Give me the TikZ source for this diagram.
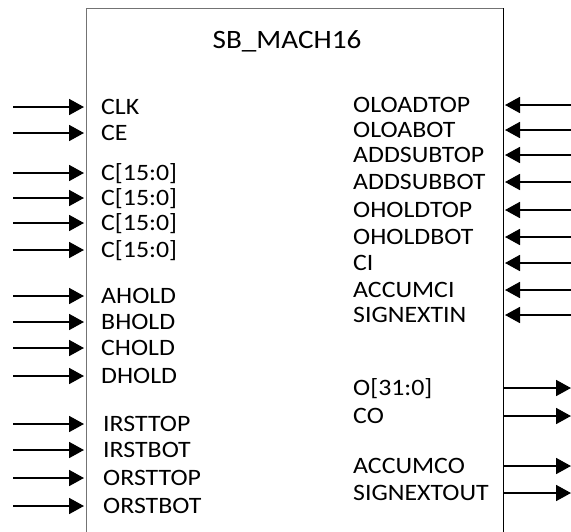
\documentclass[tikz,border=0pt]{standalone}
\usepackage{fontspec}
\setmainfont{Carlito}[FakeStretch=1.1]
\usetikzlibrary{arrows.meta}
\begin{document}
\begin{tikzpicture}[x=1pt,y=-1pt,
  lbl/.style={anchor=base west,inner sep=0pt,font=\fontsize{23.5}{23.5}\selectfont},
  ttl/.style={anchor=center,inner sep=0pt,font=\fontsize{26.5}{26.5}\selectfont},
  sig/.style={line width=1.8pt,-{Triangle[length=15pt,width=16pt]}},
  edgeg/.style={draw=black!55,line width=1pt},
  edgek/.style={draw=black,line width=1pt}]
\useasboundingbox (0,0) rectangle (571,531);
% box
\coordinate (tl) at (86,8);
\coordinate (tr) at (503,8);
\coordinate (bl) at (86,532);
\coordinate (br) at (503,532);
\draw[edgeg] (bl) -- (tl) -- (tr);
\draw[edgek] (tr) -- (br);
\node[ttl] (title) at (287,41) {SB\_MACH16};
% left inputs
\foreach \y/\n/\t/\x in {107/clk/CLK/101,133/ce/CE/101,173/c1/{C[15:0]}/101,198/c2/{C[15:0]}/101,223/c3/{C[15:0]}/101,250/c4/{C[15:0]}/101,296/ah/AHOLD/101,322/bh/BHOLD/101,348/ch/CHOLD/101,376/dh/DHOLD/101,424/it/IRSTTOP/103,450/ib/IRSTBOT/103,478/ot/ORSTTOP/103,506/ob/ORSTBOT/103}{
  \node[lbl] (\n) at (\x,\y+7.5) {\t};
  \coordinate (\n-s) at (13,\y);
  \coordinate (\n-e) at (84,\y);
  \draw[sig] (\n-s) -- (\n-e);
}
% right inputs
\foreach \y/\n/\t in {105/olt/OLOADTOP,130/olb/OLOABOT,155/ast/ADDSUBTOP,182/asb/ADDSUBBOT,210/oht/OHOLDTOP,237/ohb/OHOLDBOT,263/ci/CI,290/aci/ACCUMCI,315/sxi/SIGNEXTIN}{
  \node[lbl] (\n) at (353,\y+7.5) {\t};
  \coordinate (\n-s) at (571,\y);
  \coordinate (\n-e) at (505,\y);
  \draw[sig] (\n-s) -- (\n-e);
}
% right outputs
\foreach \y/\n/\t in {388/o/{O[31:0]},416/co/CO,466/aco/ACCUMCO,493/sxo/SIGNEXTOUT}{
  \node[lbl] (\n) at (353,\y+7.5) {\t};
  \coordinate (\n-s) at (503,\y);
  \coordinate (\n-e) at (571,\y);
  \draw[sig] (\n-s) -- (\n-e);
}
\end{tikzpicture}
\end{document}
